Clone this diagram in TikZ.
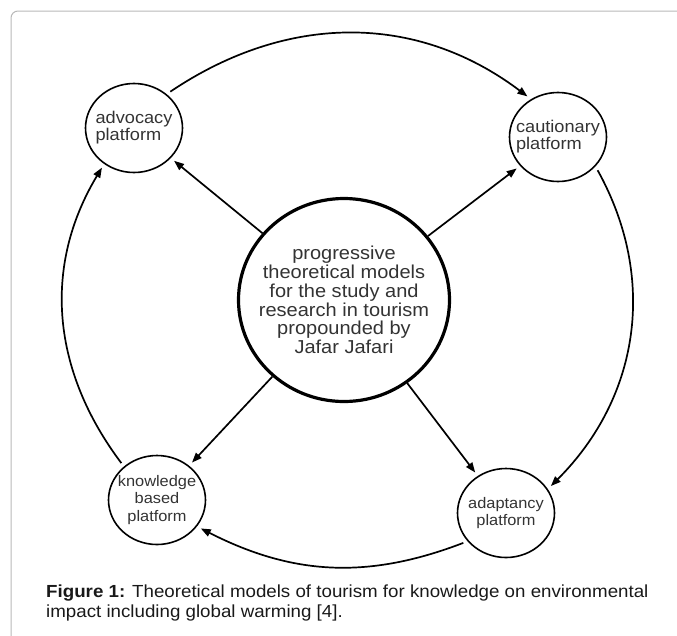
\documentclass[tikz,border=0pt]{standalone}
\usepackage{fontspec}
\setmainfont{Liberation Sans}[FakeStretch=1.07]
\usetikzlibrary{arrows.meta,shapes.geometric}

\begin{document}
\begin{tikzpicture}[%
    x=1pt, y=1pt,
    >={Triangle[length=10pt,width=7.5pt]},
    ]
\tikzset{
  base/.style={draw, ellipse, inner sep=-30pt, text=black!80},
  plat/.style={base, line width=1.6pt, minimum width=97pt, minimum height=89pt, outer sep=5pt},
  platl/.style={plat, align=left, font=\fontsize{17}{15.5}\selectfont},
  platc/.style={plat, align=center, font=\fontsize{15.3}{17.8}\selectfont},
  core/.style={base, align=center, line width=3.2pt, minimum width=211pt, minimum height=203pt,
    outer sep=1.6pt, font=\fontsize{18.7}{18.7}\selectfont},
  ar/.style={->, line width=1.7pt},
  framegray/.style={draw=black!28, line width=1pt, rounded corners=7pt}
}
    \useasboundingbox (0,0) rectangle (677,-635);
    % frame of the figure
    \draw [framegray] (11,-660) |- (700,-11);

    % centre and the four platforms
    \node [core] (mdl) at (344,-300) {progressive\\theoretical models\\for the study and\\research in tourism\\propounded by\\Jafar Jafari};
    \node [platl] (adv) at (134,-128) {advocacy\\platform};
    \node [platl] (cau) at (558,-137) {cautionary\\platform};
    \node [platc] (kno) at (157,-500) {knowledge\\based\\platform};
    \node [platc] (ada) at (506,-513) {adaptancy\\platform};

    % spokes
    \draw [ar] (mdl) -- (adv);
    \draw [ar] (mdl) -- (cau);
    \draw [ar] (mdl) -- (kno);
    \draw [ar] (mdl) -- (ada);

    % outer ring, clockwise
    \draw [ar] (adv.45) to [out=34, in=143] (cau.127);
    \draw [ar] (cau.-40) to [out=-61, in=45] (ada.31);
    \draw [ar] (ada.-145) to [out=201, in=-27] (kno.-33);
    \draw [ar] (kno.134) to [out=127, in=239] (adv.-129);

    % caption
    \node [anchor=north west, inner sep=0pt, align=left, text=black!90,
      font=\fontsize{17.5}{20}\selectfont] (cap) at (46,-585)
      {\textbf{Figure 1:} Theoretical models of tourism for knowledge on environmental\\impact including global warming [4].};
\end{tikzpicture}
\end{document}
